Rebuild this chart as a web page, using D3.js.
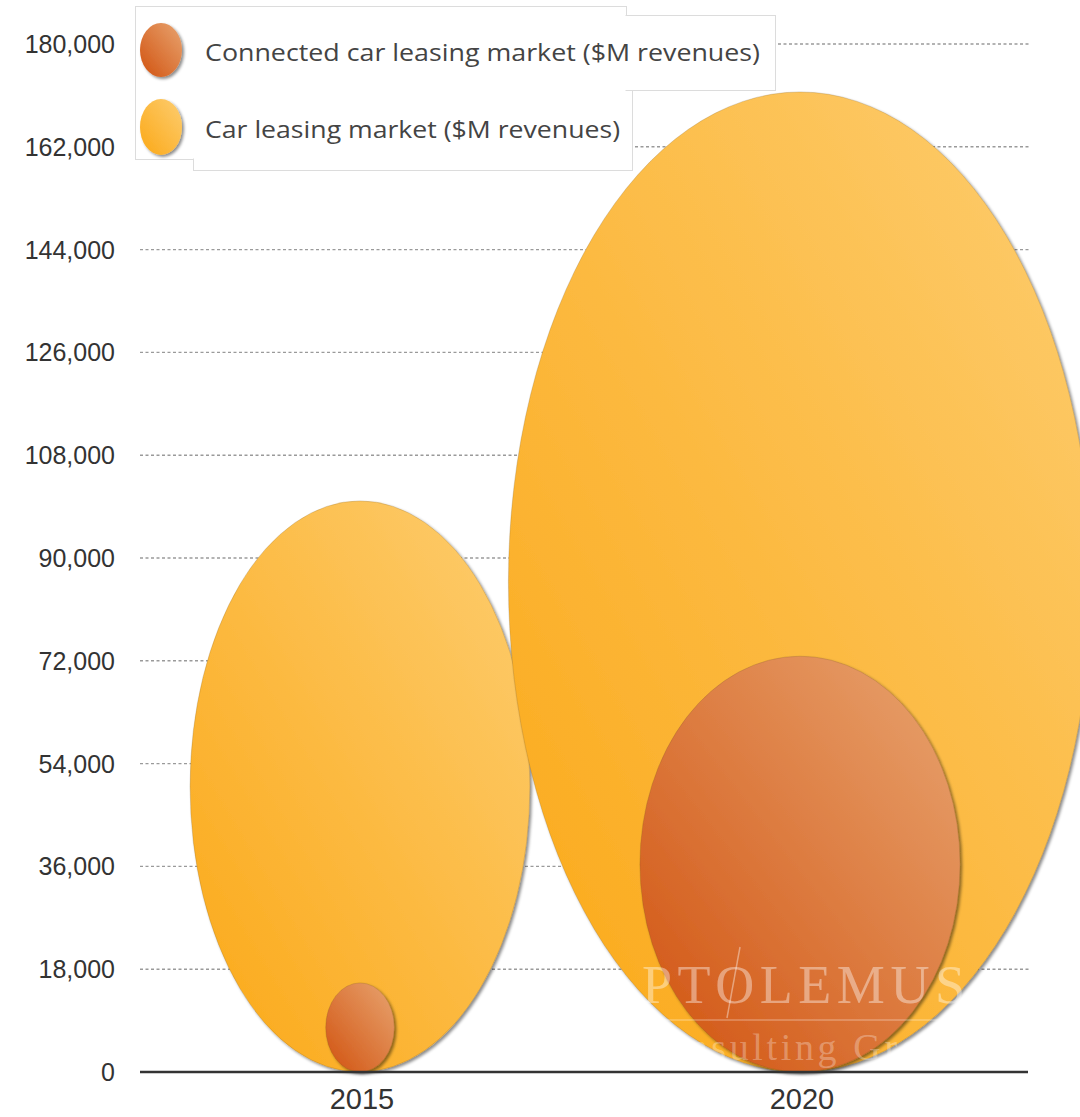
<!DOCTYPE html>
<html>
<head>
<meta charset="utf-8">
<script src="https://cdn.jsdelivr.net/npm/d3@7"></script>
<style>
  html, body { margin: 0; padding: 0; background: #fff; }
  svg { display: block; }
</style>
</head>
<body>
<svg id="chart"></svg>
<script>
(function() {

// ---------- data ----------
const years = ["2015", "2020"];
const carLeasing = [100000, 171600];        // $M revenues
const connectedLeasing = [15600, 72800];    // $M revenues
const yTicks = [0, 18000, 36000, 54000, 72000, 90000, 108000, 126000, 144000, 162000, 180000];
const legendLabels = ["Connected car leasing market ($M revenues)", "Car leasing market ($M revenues)"];

const width = 1080;
const height = 1117;

const svg = d3.select("#chart")
  .attr("width", width)
  .attr("height", height);

const defs = svg.append("defs");

// gradients: dark at bottom-left, light at top-right
function addGradient(id, c0, c1) {
  const g = defs.append("linearGradient")
    .attr("id", id)
    .attr("x1", 0).attr("y1", 1)
    .attr("x2", 1).attr("y2", 0);
  g.append("stop").attr("offset", "0%").attr("stop-color", c0);
  g.append("stop").attr("offset", "100%").attr("stop-color", c1);
}
addGradient("gradYellow", "#fba816", "#fdcd70");
addGradient("gradOrange", "#d1520f", "#e8a470");

const shadow = defs.append("filter")
  .attr("id", "shadow")
  .attr("x", "-10%").attr("y", "-10%")
  .attr("width", "120%").attr("height", "120%");
shadow.append("feDropShadow")
  .attr("dx", 2).attr("dy", 2)
  .attr("stdDeviation", 1.6)
  .attr("flood-color", "#000")
  .attr("flood-opacity", 0.45);

// scales
const y = d3.scaleLinear().domain([0, 180000]).range([1072, 44]);
const x = d3.scalePoint().domain(years).range([140, 1020]).padding(0.5);

// ---------- gridlines ----------
svg.append("g")
  .selectAll("line")
  .data(yTicks.filter(d => d > 0))
  .join("line")
    .attr("x1", 140).attr("x2", 1030)
    .attr("y1", d => y(d)).attr("y2", d => y(d))
    .attr("stroke", "#9a9a9a")
    .attr("stroke-width", 1.4)
    .attr("stroke-dasharray", "3,2.5");

// y tick labels
svg.append("g")
  .selectAll("text")
  .data(yTicks)
  .join("text")
    .attr("x", 115)
    .attr("y", d => y(d))
    .attr("dy", "0.36em")
    .attr("text-anchor", "end")
    .attr("font-family", "Liberation Sans, Arial, sans-serif")
    .attr("font-size", "25px")
    .attr("fill", "#333")
    .text(d => d3.format(",")(d));

// ---------- bubbles (ellipses sitting on zero) ----------
function drawSeries(values, fill, aspect) {
  svg.append("g")
    .selectAll("ellipse")
    .data(values.map((v, i) => ({ year: years[i], value: v })))
    .join("ellipse")
      .attr("cx", d => x(d.year))
      .attr("cy", d => y(d.value / 2))
      .attr("ry", d => (y(0) - y(d.value)) / 2)
      .attr("rx", d => (y(0) - y(d.value)) / 2 * aspect)
      .attr("fill", fill)
      .attr("stroke", "rgba(110,80,30,0.25)")
      .attr("stroke-width", 0.8)
      .attr("filter", "url(#shadow)");
}
drawSeries(carLeasing, "url(#gradYellow)", 0.595);
drawSeries(connectedLeasing, "url(#gradOrange)", 0.77);

// x axis line
svg.append("line")
  .attr("x1", 140).attr("x2", 1028)
  .attr("y1", y(0)).attr("y2", y(0))
  .attr("stroke", "#333")
  .attr("stroke-width", 2.5);

// x labels
svg.append("g")
  .selectAll("text")
  .data(years)
  .join("text")
    .attr("x", d => x(d) + 2)
    .attr("y", 1109)
    .attr("text-anchor", "middle")
    .attr("font-family", "Liberation Sans, Arial, sans-serif")
    .attr("font-size", "29px")
    .attr("fill", "#333")
    .text(d => d);

// ---------- watermark ----------
const wm = svg.append("g").attr("pointer-events", "none");
wm.append("text")
  .attr("x", 642).attr("y", 1003)
  .attr("font-family", "Liberation Serif, Times New Roman, serif")
  .attr("font-size", "54px")
  .attr("textLength", 323)
  .attr("lengthAdjust", "spacing")
  .attr("fill", "#fff")
  .attr("fill-opacity", 0.4)
  .text("PTOLEMUS");
wm.append("line")
  .attr("x1", 740).attr("y1", 947)
  .attr("x2", 727).attr("y2", 1018)
  .attr("stroke", "#fff").attr("stroke-opacity", 0.4).attr("stroke-width", 1.5);
wm.append("line")
  .attr("x1", 637).attr("x2", 967)
  .attr("y1", 1020).attr("y2", 1020)
  .attr("stroke", "#fff").attr("stroke-opacity", 0.3).attr("stroke-width", 1.5);
wm.append("text")
  .attr("x", 637).attr("y", 1060)
  .attr("font-family", "Liberation Serif, Times New Roman, serif")
  .attr("font-size", "38px")
  .attr("textLength", 328)
  .attr("lengthAdjust", "spacing")
  .attr("fill", "#fff")
  .attr("fill-opacity", 0.3)
  .text("Consulting Group");

// ---------- legend ----------
const legend = svg.append("g");
const boxes = [
  { x: 135, y: 6, w: 491, h: 153 },
  { x: 621, y: 15, w: 154, h: 75 },
  { x: 193, y: 90, w: 439, h: 80 }
];
legend.selectAll("rect.border")
  .data(boxes)
  .join("rect")
    .attr("class", "border")
    .attr("x", d => d.x + 0.5).attr("y", d => d.y + 0.5)
    .attr("width", d => d.w).attr("height", d => d.h)
    .attr("fill", "#fff")
    .attr("stroke", "#dcdcdc")
    .attr("stroke-width", 1);
legend.selectAll("rect.fill")
  .data(boxes)
  .join("rect")
    .attr("class", "fill")
    .attr("x", d => d.x + 1.5).attr("y", d => d.y + 1.5)
    .attr("width", d => d.w - 2).attr("height", d => d.h - 2)
    .attr("fill", "#fff");

const legendItems = [
  { label: legendLabels[0], fill: "url(#gradOrange)", cy: 50, ry: 27, len: 555 },
  { label: legendLabels[1], fill: "url(#gradYellow)", cy: 127, ry: 28, len: 415 }
];
legend.selectAll("ellipse")
  .data(legendItems)
  .join("ellipse")
    .attr("cx", 161)
    .attr("cy", d => d.cy)
    .attr("rx", 21)
    .attr("ry", d => d.ry)
    .attr("fill", d => d.fill)
    .attr("filter", "url(#shadow)");
legend.selectAll("text")
  .data(legendItems)
  .join("text")
    .attr("x", 205)
    .attr("y", d => d.cy + 11)
    .attr("font-family", "Open Sans, DejaVu Sans, sans-serif")
    .attr("font-size", "23px")
    .attr("textLength", d => d.len)
    .attr("lengthAdjust", "spacingAndGlyphs")
    .attr("fill", "#444")
    .text(d => d.label);

})();
</script>
</body>
</html>
